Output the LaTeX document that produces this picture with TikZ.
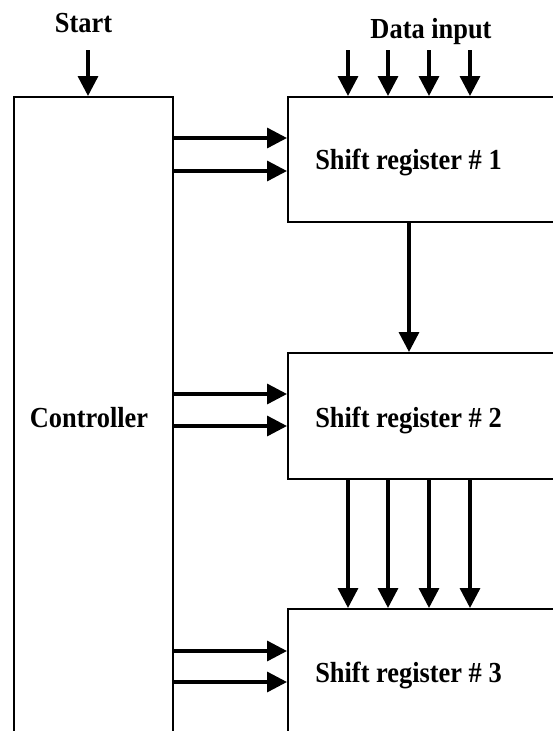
\documentclass[tikz,border=0pt]{standalone}
\usepackage{fontspec}
\setmainfont{Liberation Serif}
\usetikzlibrary{arrows.meta}
\begin{document}
\begin{tikzpicture}[x=1pt,y=-1pt,
  box/.style={draw=black, line width=2pt, fill=none, inner sep=0pt},
  arr/.style={line width=3.4pt, -{Triangle[length=20pt 0,width=20pt 0]}},
  lbl/.style={anchor=base, inner sep=0pt, font=\bfseries\fontsize{26.4}{30}\selectfont}]
\useasboundingbox[fill=white] (0,0) rectangle (553,731);
\clip (0,0) rectangle (553,731);
% boxes
\node[box, minimum width=159pt, minimum height=663pt] (ctrl) at (93.5,428.5) {};
\node[box, minimum width=312pt, minimum height=125pt] (sr1) at (444,159.5) {};
\node[box, minimum width=312pt, minimum height=126pt] (sr2) at (444,416) {};
\node[box, minimum width=312pt, minimum height=160pt] (sr3) at (444,689) {};
% labels
\node[lbl] (tstart) at (83.5,32) {\scalebox{1}[1.1]{Start}};
\node[lbl] (tdata) at (431,38) {\scalebox{1}[1.1]{Data input}};
\node[lbl] (tctrl) at (89,427) {\scalebox{1}[1.1]{Controller}};
\node[lbl] (t1) at (408.5,169) {\scalebox{1}[1.1]{Shift register \# 1}};
\node[lbl] (t2) at (408.5,427) {\scalebox{1}[1.1]{Shift register \# 2}};
\node[lbl] (t3) at (408.5,682) {\scalebox{1}[1.1]{Shift register \# 3}};
% free ends
\coordinate (s0) at (88,50);
\coordinate (d1) at (348,50);
\coordinate (d2) at (388,50);
\coordinate (d3) at (429,50);
\coordinate (d4) at (470,50);
% start
\draw[arr] (s0) -- (s0 |- ctrl.north);
% data input
\foreach \c in {d1,d2,d3,d4} {
  \draw[arr] (\c) -- (\c |- sr1.north);
}
% sr1 -> sr2
\draw[arr] (sr1.south -| 409,0) -- (sr2.north -| 409,0);
% sr2 -> sr3
\foreach \x in {348,388,429,470} {
  \draw[arr] (sr2.south -| \x,0) -- (sr3.north -| \x,0);
}
% controller -> registers
\foreach \y/\r in {138/sr1,171/sr1,394/sr2,426/sr2,651/sr3,682/sr3} {
  \draw[arr] (ctrl.east |- 0,\y) -- (\r.west |- 0,\y);
}
\end{tikzpicture}
\end{document}
